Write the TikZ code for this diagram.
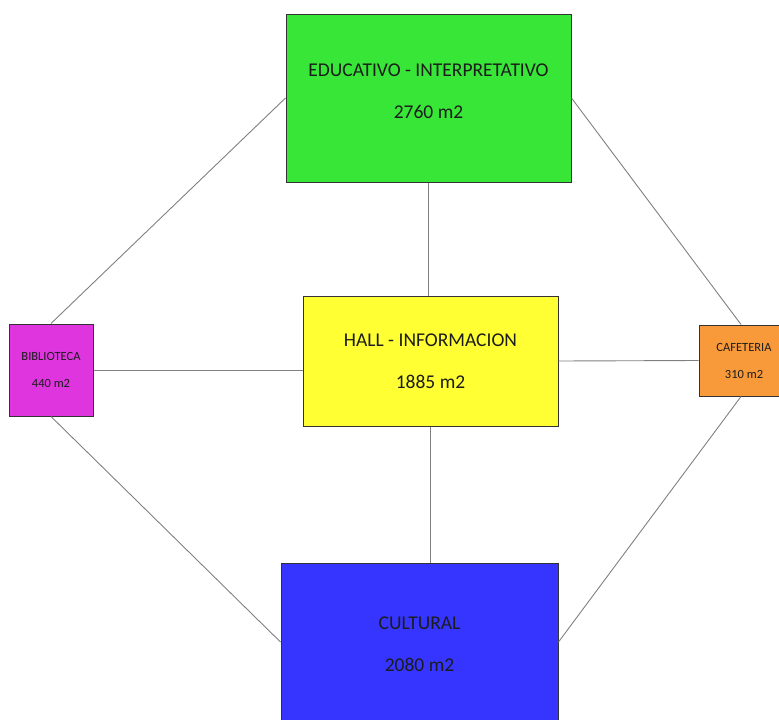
\documentclass[tikz,border=0pt]{standalone}
\usepackage{fontspec}
\setmainfont{Carlito}
\usepackage{xcolor}
\definecolor{verde}{HTML}{38E638}
\definecolor{amarillo}{HTML}{FFFF33}
\definecolor{magenta2}{HTML}{DE35DE}
\definecolor{naranja}{HTML}{F99A3A}
\definecolor{azul}{HTML}{3535FF}
\definecolor{tinta}{HTML}{1C1C1C}
\tikzset{
  zona/.style={draw=black!80,line width=1pt,rectangle,inner sep=0pt},
  grande/.style={text=tinta,align=center,font=\fontsize{19.5}{42}\selectfont},
  chica/.style={text=tinta,align=center,font=\fontsize{12.5}{27}\selectfont},
  enlace/.style={draw=black!50,line width=0.9pt}
}

\begin{document}
\begin{tikzpicture}[x=1pt,y=-1pt]
    \useasboundingbox (0,0) rectangle (779,720);
    \begin{scope}
    \clip (0,0) rectangle (779,720);
    \node[zona,fill=verde,minimum width=285pt,minimum height=168pt] (edu) at (428.5,98) {};
    \node[zona,fill=amarillo,minimum width=255pt,minimum height=130pt] (hall) at (430.5,361) {};
    \node[zona,fill=magenta2,minimum width=84pt,minimum height=92pt] (bib) at (51,370) {};
    \node[zona,fill=naranja,minimum width=90pt,minimum height=71pt] (caf) at (744,360.5) {};
    \node[zona,fill=azul,minimum width=277pt,minimum height=158pt] (cul) at (419.5,642) {};
    \end{scope}

    \node[grande] (edu-t) at ([yshift=7pt]edu.center) {EDUCATIVO - INTERPRETATIVO\\2760 m2};
    \node[grande] (hall-t) at (hall.center) {HALL - INFORMACION\\1885 m2};
    \node[grande] (cul-t) at ([yshift=-2pt]cul.center) {CULTURAL\\2080 m2};
    \node[chica] (bib-t) at (bib.center) {BIBLIOTECA\\440 m2};
    \node[chica] (caf-t) at (caf.center) {CAFETERIA\\310 m2};

    % conexiones
    \draw[enlace] (edu.west) -- (bib.north);
    \draw[enlace] (edu.east) -- ([xshift=-3pt]caf.north);
    \draw[enlace] (edu.south) -- (edu.south |- hall.north);
    \draw[enlace] (bib.east) -- (bib.east -| hall.west);
    \draw[enlace] (hall.east) -- (caf.west);
    \draw[enlace] (hall.south) -- (hall.south |- cul.north);
    \draw[enlace] (bib.south) -- (cul.west);
    \draw[enlace] ([xshift=-3pt]caf.south) -- (cul.east);
\end{tikzpicture}
\end{document}
